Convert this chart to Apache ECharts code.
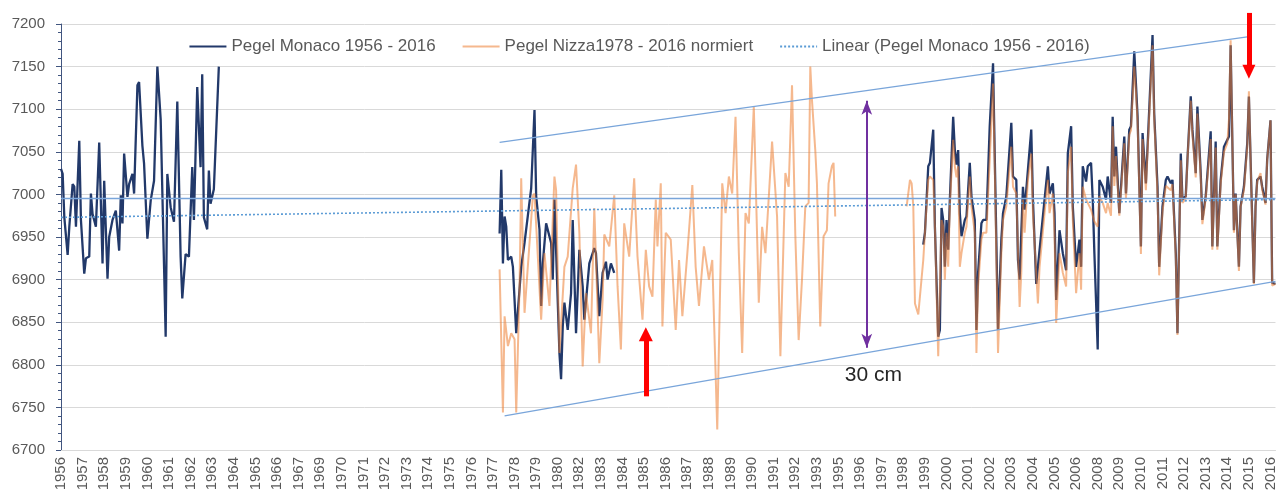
<!DOCTYPE html>
<html>
<head>
<meta charset="utf-8">
<script src="https://cdn.jsdelivr.net/npm/echarts@6/dist/echarts.min.js"></script>
<style>
  html, body { margin: 0; padding: 0; background: #fff; }
  #chart { width: 1278px; height: 496px; }
</style>
</head>
<body>
<div id="chart"></div>
<script>
  // monthly categories Jan 1956 .. Dec 2016, a year label every 13 months (as in the Excel source)
  var firstYear = 1956, lastYear = 2016;
  var months = [];
  for (var y = firstYear; y <= lastYear; y++) {
    for (var m = 1; m <= 12; m++) months.push(y + '-' + (m < 10 ? '0' + m : m));
  }

  // [month index, level]
  var monaco1956 = [[0,7030],[1,7024],[2,6973],[4,6929],[5,6962],[7,7012],[8,7009],[9,6962],[11,7063],[12,6970],[14,6907],[15,6925],[17,6927],[18,7001],[19,6977],[21,6962],[23,7061],[25,6919],[26,7016],[28,6901],[29,6950],[31,6970],[33,6981],[35,6934],[36,6999],[37,6966],[38,7048],[40,6997],[41,7012],[43,7024],[44,7001],[46,7128],[47,7132],[49,7057],[50,7036],[52,6948],[54,6993],[56,7016],[58,7150],[60,7088],[63,6833],[64,7024],[66,6985],[68,6968],[70,7109],[72,6927],[73,6878],[75,6930],[77,6927],[79,7032],[80,6970],[82,7126],[84,7032],[85,7141],[86,6973],[88,6959],[89,7028],[90,6989],[92,7006],[95,7150]];
  var monaco1977 = [[264,6954],[265,7029],[266,6919],[267,6974],[268,6962],[269,6923],[271,6927],[272,6915],[274,6837],[277,6915],[279,6943],[283,7007],[285,7099],[286,6998],[288,6959],[289,6869],[290,6919],[292,6966],[293,6968],[295,6943],[296,6900],[297,6994],[300,6814],[301,6783],[302,6845],[303,6873],[305,6841],[307,6884],[308,6970],[310,6837],[312,6935],[314,6892],[315,6853],[318,6919],[321,6937],[322,6931],[324,6857],[326,6908],[328,6921],[329,6900],[331,6919],[333,6908]];
  var monaco1999 = [[519,6941],[520,6955],[522,7033],[523,7037],[525,7076],[526,6962],[528,6833],[529,6841],[530,6984],[531,6970],[532,6915],[533,6970],[534,6935],[535,6994],[537,7091],[538,7052],[539,7035],[540,7052],[541,6978],[542,6951],[544,6970],[545,6974],[547,7037],[548,6998],[550,6970],[551,6841],[552,6908],[554,6966],[555,6970],[557,6970],[559,7080],[561,7154],[562,7048],[564,6841],[566,6947],[567,6978],[569,6998],[570,6998],[572,7084],[573,7021],[575,7017],[576,6923],[577,6900],[579,7009],[580,6982],[582,7029],[584,7076],[585,6994],[587,6895],[589,6935],[592,6994],[594,7033],[595,7001],[597,7013],[598,6978],[599,6876],[601,6958],[603,6931],[605,6911],[606,7048],[608,7080],[609,6986],[611,6915],[613,6947],[614,6915],[615,7033],[617,7015],[618,7033],[620,7037],[621,6994],[622,6931],[624,6818],[625,7017],[627,7009],[629,6994],[630,7021],[632,6990],[633,7091],[634,7021],[635,7056],[637,6978],[638,6978],[640,7068],[641,7001],[643,7076],[644,7080],[646,7168],[647,7130],[648,7091],[650,6939],[651,7072],[653,7013],[654,7056],[657,7187],[658,7095],[660,7009],[661,6915],[663,6986],[665,7017],[666,7021],[668,7013],[669,7017],[671,6931],[672,6837],[674,7048],[675,6994],[677,6998],[678,7041],[680,7115],[681,7076],[683,7025],[684,7103],[686,7025],[687,6970],[689,6998],[692,7074],[693,6939],[695,7062],[696,6939],[698,7017],[700,7056],[702,7064],[703,7068],[704,7175],[706,6958],[707,7001],[709,6915],[710,6986],[712,7009],[714,7060],[715,7115],[717,6970],[718,6896],[719,6986],[720,7017],[722,7021],[723,7009],[725,6990],[726,7041],[728,7087],[729,6896],[731,6895]];

  var nizza1977 = [[264,6912],[266,6744],[267,6857],[269,6822],[271,6837],[273,6830],[274,6744],[276,6892],[277,7019],[279,6861],[282,6943],[284,6998],[285,7001],[289,6853],[291,6931],[294,6869],[297,7021],[298,7005],[300,6814],[303,6915],[305,6927],[308,7007],[310,7035],[312,6955],[314,6798],[316,6884],[319,6837],[321,6984],[324,6802],[326,6876],[327,6953],[330,6939],[333,6999],[335,6892],[337,6818],[339,6966],[342,6927],[345,7019],[347,6927],[350,6853],[352,6935],[354,6892],[356,6880],[358,6994],[359,6939],[361,7013],[362,6845],[364,6955],[367,6947],[370,6841],[372,6923],[374,6857],[377,6931],[380,7011],[382,6915],[384,6869],[387,6939],[390,6900],[392,6923],[395,6724],[398,7013],[400,6978],[402,7021],[404,7001],[406,7091],[408,6931],[410,6814],[412,6978],[414,6966],[417,7103],[420,6873],[422,6962],[424,6931],[428,7062],[431,6974],[433,6810],[436,7025],[438,7009],[440,7128],[442,6951],[444,6829],[446,6900],[448,6986],[450,6990],[451,7150],[452,7111],[454,7052],[455,7013],[457,6845],[459,6951],[461,6958],[462,7013],[464,7033],[465,7037],[466,6974]];
  var nizza1998 = [[509,6986],[511,7017],[512,7013],[513,6986],[514,6872],[516,6859],[519,6923],[520,6955],[522,7017],[523,7021],[525,7017],[526,6962],[528,6810],[530,6970],[531,6962],[532,6900],[533,6955],[534,6915],[535,6986],[537,7064],[538,7033],[539,7020],[540,7033],[541,6915],[542,6931],[544,6955],[545,6962],[547,7021],[548,6986],[550,6955],[551,6814],[552,6892],[554,6947],[555,6955],[557,6955],[559,7040],[561,7130],[562,7033],[564,6814],[566,6931],[567,6970],[569,6986],[570,6986],[572,7056],[573,7009],[575,7001],[577,6868],[578,6908],[579,6994],[580,6955],[582,7017],[584,7048],[585,6978],[588,6872],[589,6915],[592,6978],[594,7017],[595,6978],[597,7001],[598,6955],[599,6849],[601,6931],[603,6908],[605,6892],[606,7025],[608,7056],[609,6970],[611,6884],[613,6931],[614,6888],[615,7009],[617,6994],[618,6990],[620,6982],[621,6975],[622,6968],[624,6962],[625,6998],[627,6990],[629,6978],[630,6990],[632,6975],[633,7080],[634,7010],[635,7045],[637,6975],[638,6975],[640,7060],[641,6995],[643,7070],[644,7075],[646,7150],[647,7120],[648,7085],[650,6930],[651,7065],[653,7005],[654,7050],[657,7175],[658,7090],[660,7000],[661,6905],[663,6980],[665,7010],[666,7012],[668,7005],[669,7012],[671,6925],[672,6835],[674,7040],[675,6990],[677,6995],[678,7040],[680,7110],[681,7070],[683,7020],[684,7095],[686,7020],[687,6965],[689,6995],[692,7065],[693,6935],[695,7055],[696,6935],[698,7012],[700,7050],[702,7060],[703,7088],[704,7181],[706,6955],[707,7000],[709,6910],[710,6985],[712,7005],[714,7055],[715,7121],[717,6965],[718,6895],[719,6985],[720,7015],[722,7025],[723,7005],[725,6988],[726,7040],[728,7087],[729,6893],[731,6895]];

  // linear trend of Monaco, end points
  var trendEnds = [[0,6973],[731,6994]];

  // hand drawn annotations: [month index, level]
  var levelLine = [[0,6996],[731,6996]];
  var upperChannel = [[264,7061],[714,7185]];
  var lowerChannel = [[267,6740],[731,6898]];
  var spanArrow = [[484.5,7110],[484.5,6820]];
  var upArrow = [[352,6763],[352,6836]];
  var downArrow = [[715,7213],[715,7144]];
  var spanText = [489,6788];

  // join segments, a '-' value breaks the line between them
  function joinSegments(segs) {
    var out = [];
    segs.forEach(function (s, i) {
      if (i > 0) out.push([s[0][0] - 1, '-']);
      out = out.concat(s);
    });
    return out;
  }

  // start can be {coord} or {x, y} (pixel from convertToPixel, for points above the y max)
  function segLine(from, to, style, symFrom, symTo) {
    var a = Array.isArray(from) ? { coord: from } : from;
    var b = Array.isArray(to) ? { coord: to } : to;
    a.symbol = symFrom ? symFrom[0] : 'none';
    a.symbolSize = symFrom ? symFrom[1] : 0;
    a.lineStyle = style;
    b.symbol = symTo ? symTo[0] : 'none';
    b.symbolSize = symTo ? symTo[1] : 0;
    b.lineStyle = style;
    return [a, b];
  }

  var blueThin = { color: '#79A5DA', width: 1.3, type: 'solid' };
  var purple = { color: '#7030A0', width: 2, type: 'solid' };
  var red = { color: '#FF0000', width: 5, type: 'solid' };

  var chart = echarts.init(document.getElementById('chart'));
  var option = {
    animation: false,
    textStyle: { fontFamily: 'Liberation Sans, Arial, sans-serif' },
    grid: { left: 61, right: 1, top: 24, bottom: 46 },
    legend: {
      data: ['Pegel Monaco 1956 - 2016', 'Pegel Nizza1978 - 2016 normiert', 'Linear (Pegel Monaco 1956 - 2016)'],
      left: 'center',
      top: 33,
      itemWidth: 37,
      itemHeight: 14,
      itemGap: 26,
      itemStyle: { opacity: 0 },
      textStyle: { fontSize: 17, color: '#595959' }
    },
    xAxis: {
      type: 'category',
      data: months,
      boundaryGap: false,
      axisLine: { lineStyle: { color: '#D9D9D9' } },
      axisTick: { show: false },
      splitLine: { show: false },
      axisLabel: {
        interval: 12,
        rotate: 90,
        margin: 7,
        fontSize: 15,
        color: '#595959',
        formatter: function (v) { return v.slice(0, 4); }
      }
    },
    yAxis: {
      type: 'value',
      min: 6700,
      max: 7200,
      interval: 50,
      axisLine: { show: true, lineStyle: { color: '#41557F' } },
      axisTick: { show: true, length: 5, lineStyle: { color: '#41557F' } },
      minorTick: { show: true, splitNumber: 5, length: 3, lineStyle: { color: '#41557F' } },
      splitLine: { lineStyle: { color: '#D9D9D9' } },
      axisLabel: { fontSize: 15, color: '#595959', margin: 16, formatter: function (v) { return String(v); } }
    },
    series: [
      {
        name: 'Pegel Monaco 1956 - 2016',
        type: 'line',
        data: joinSegments([monaco1956, monaco1977, monaco1999]),
        symbol: 'none',
        lineStyle: { color: '#22396A', width: 2.3 },
        itemStyle: { color: '#22396A' }
      },
      {
        name: 'Pegel Nizza1978 - 2016 normiert',
        type: 'line',
        data: joinSegments([nizza1977, nizza1998]),
        symbol: 'none',
        lineStyle: { color: '#ED7D31', width: 2, opacity: 0.55 },
        itemStyle: { color: '#F6BE98' }
      },
      {
        name: 'Linear (Pegel Monaco 1956 - 2016)',
        type: 'line',
        data: trendEnds,
        symbol: 'none',
        clip: false,
        lineStyle: { color: '#5B9BD5', width: 1.6, type: [2, 2] },
        itemStyle: { color: '#5B9BD5' }
      }
    ]
  };
  chart.setOption(option);

  // annotations go on the trend series once the scales exist
  var downTail = chart.convertToPixel({ xAxisIndex: 0, yAxisIndex: 0 }, downArrow[0]);
  chart.setOption({
    series: [{}, {}, {
      markLine: {
        silent: true,
        animation: false,
        label: { show: false },
        emphasis: { disabled: true },
        data: [
          segLine(levelLine[0], levelLine[1], blueThin),
          segLine(upperChannel[0], upperChannel[1], blueThin),
          segLine(lowerChannel[0], lowerChannel[1], blueThin),
          segLine(spanArrow[0], spanArrow[1], purple, ['arrow', [8, 14]], ['arrow', [8, 14]]),
          segLine(upArrow[0], upArrow[1], red, null, ['triangle', [14, 14]]),
          segLine({ x: downTail[0], y: downTail[1] }, downArrow[1], red, null, ['triangle', [13, 14]])
        ]
      },
      markPoint: {
        silent: true,
        symbol: 'circle',
        symbolSize: 1,
        itemStyle: { color: 'rgba(0,0,0,0)' },
        label: { show: true, position: 'inside', formatter: '30 cm', fontSize: 21, color: '#262626' },
        data: [{ coord: spanText }]
      }
    }]
  });
</script>
</body>
</html>
